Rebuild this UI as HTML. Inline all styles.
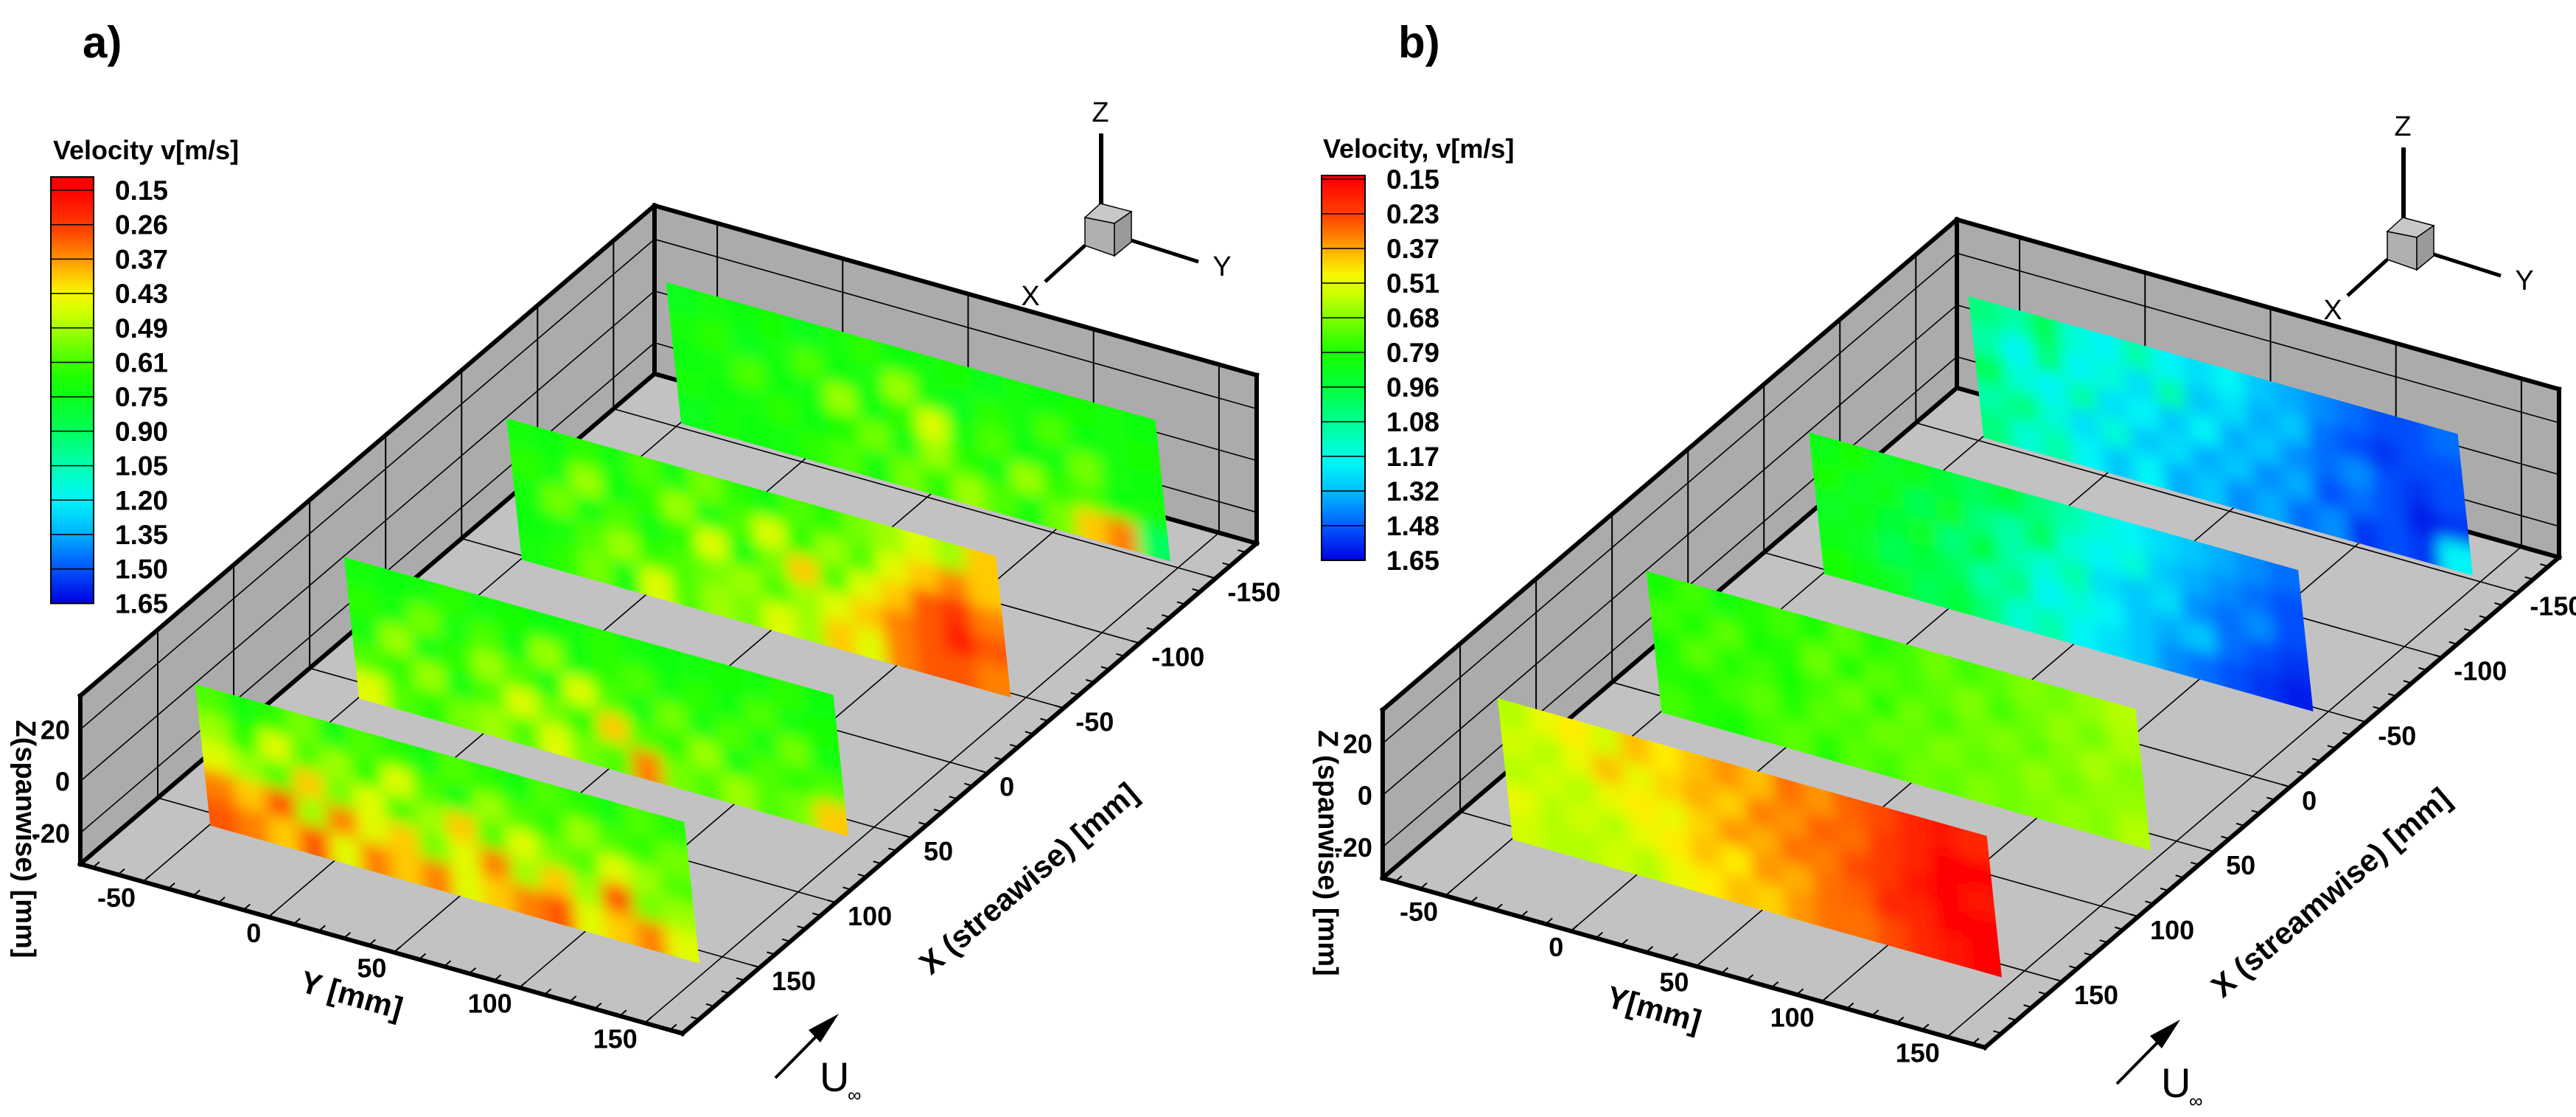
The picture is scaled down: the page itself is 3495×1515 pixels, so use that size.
<!DOCTYPE html>
<html><head><meta charset="utf-8">
<style>
html,body{margin:0;padding:0;background:#fff;}
svg{display:block;}
text{font-family:"Liberation Sans",Arial,sans-serif;}
</style></head>
<body>
<svg id="fig" xmlns="http://www.w3.org/2000/svg" width="3495" height="1515" viewBox="0 0 3495 1515">
<defs id="defs"></defs>
<text x="112" y="78" font-size="60" font-weight="bold">a)</text>
<text x="1897" y="78" font-size="60" font-weight="bold">b)</text>
<g id="panelA"></g>
<g id="panelB"></g>
</svg>
<script>
// ---- data ----
const levelsA = [0.15,0.26,0.37,0.43,0.49,0.61,0.75,0.90,1.05,1.20,1.35,1.50,1.65];
const levelsB = [0.15,0.23,0.37,0.51,0.68,0.79,0.96,1.08,1.17,1.32,1.48,1.65];
const levelLabelsA = ["0.15","0.26","0.37","0.43","0.49","0.61","0.75","0.90","1.05","1.20","1.35","1.50","1.65"];
const levelLabelsB = ["0.15","0.23","0.37","0.51","0.68","0.79","0.96","1.08","1.17","1.32","1.48","1.65"];
const yTicks = [-50,0,50,100,150];
const xTicks = [-150,-100,-50,0,50,100,150];
const zTicks = [-20,0,20];
const planeX = [-145,-40,67,165];
const planeY = [-45,150];
const planeZ = [-27,26];

const planeA1 = [
[0.75,0.7,0.72,0.68,0.75,0.7,0.65,0.72,0.7,0.68,0.75,0.7,0.72,0.68,0.7,0.72],
[0.7,0.65,0.75,0.7,0.6,0.72,0.7,0.5,0.7,0.75,0.65,0.7,0.6,0.72,0.7,0.68],
[0.72,0.7,0.6,0.72,0.7,0.5,0.72,0.65,0.45,0.7,0.6,0.72,0.7,0.55,0.7,0.72],
[0.7,0.72,0.7,0.65,0.72,0.68,0.55,0.7,0.5,0.65,0.7,0.5,0.65,0.6,0.72,0.7],
[0.75,0.7,0.72,0.7,0.65,0.6,0.7,0.55,0.65,0.5,0.6,0.7,0.55,0.4,0.35,0.9]];
const planeA2 = [
[0.7,0.72,0.65,0.7,0.6,0.7,0.55,0.65,0.7,0.6,0.65,0.55,0.5,0.45,0.5,0.4],
[0.65,0.7,0.5,0.72,0.65,0.5,0.7,0.6,0.45,0.65,0.5,0.6,0.45,0.4,0.35,0.4],
[0.7,0.55,0.7,0.6,0.7,0.65,0.45,0.7,0.55,0.4,0.6,0.45,0.4,0.3,0.25,0.35],
[0.72,0.7,0.6,0.5,0.65,0.6,0.55,0.5,0.6,0.5,0.45,0.4,0.35,0.3,0.2,0.3],
[0.7,0.65,0.55,0.7,0.45,0.6,0.5,0.55,0.45,0.5,0.4,0.45,0.35,0.3,0.3,0.35]];
const planeA3 = [
[0.7,0.72,0.7,0.65,0.7,0.68,0.72,0.7,0.65,0.7,0.72,0.7,0.68,0.7,0.65,0.72],
[0.65,0.7,0.55,0.7,0.6,0.72,0.5,0.7,0.65,0.6,0.7,0.65,0.72,0.6,0.7,0.68],
[0.7,0.5,0.7,0.65,0.5,0.6,0.7,0.45,0.6,0.7,0.55,0.7,0.6,0.7,0.55,0.7],
[0.6,0.65,0.5,0.7,0.6,0.45,0.55,0.65,0.4,0.6,0.65,0.5,0.7,0.6,0.65,0.6],
[0.45,0.6,0.65,0.55,0.5,0.6,0.45,0.55,0.6,0.35,0.55,0.6,0.5,0.6,0.55,0.4]];
const planeA4 = [
[0.6,0.7,0.65,0.55,0.7,0.6,0.65,0.7,0.6,0.65,0.7,0.6,0.65,0.7,0.6,0.65],
[0.5,0.65,0.45,0.6,0.5,0.65,0.45,0.6,0.7,0.5,0.6,0.65,0.5,0.6,0.65,0.55],
[0.45,0.5,0.6,0.4,0.55,0.45,0.6,0.5,0.4,0.6,0.45,0.55,0.6,0.45,0.5,0.6],
[0.35,0.4,0.3,0.5,0.35,0.45,0.4,0.55,0.45,0.35,0.5,0.4,0.5,0.3,0.55,0.5],
[0.3,0.35,0.4,0.3,0.45,0.35,0.4,0.35,0.45,0.4,0.35,0.3,0.45,0.4,0.35,0.45]];
const planeB1 = [
[1.05,1.1,1.0,1.15,1.2,1.1,1.2,1.25,1.2,1.3,1.35,1.4,1.45,1.5,1.5,1.45],
[1.1,1.2,1.05,1.2,1.15,1.25,1.1,1.3,1.25,1.35,1.3,1.45,1.5,1.55,1.5,1.5],
[1.0,1.15,1.2,1.1,1.25,1.2,1.3,1.2,1.35,1.3,1.4,1.45,1.4,1.5,1.55,1.5],
[1.1,1.05,1.15,1.25,1.15,1.3,1.25,1.35,1.3,1.4,1.35,1.5,1.45,1.5,1.6,1.55],
[1.05,1.15,1.1,1.2,1.3,1.2,1.35,1.3,1.4,1.35,1.45,1.4,1.55,1.5,1.55,1.2]];
const planeB2 = [
[0.85,0.8,0.9,0.85,0.95,1.0,0.95,1.05,1.1,1.15,1.2,1.25,1.3,1.35,1.4,1.45],
[0.8,0.9,0.85,1.0,0.9,1.05,1.1,1.0,1.15,1.2,1.15,1.3,1.35,1.4,1.45,1.5],
[0.9,0.85,0.95,0.9,1.05,0.95,1.1,1.15,1.1,1.25,1.3,1.25,1.4,1.45,1.4,1.5],
[0.85,0.9,1.0,0.95,1.0,1.1,1.05,1.2,1.15,1.2,1.3,1.35,1.3,1.45,1.5,1.55],
[0.8,0.85,0.9,1.0,0.95,1.05,1.15,1.1,1.2,1.25,1.3,1.4,1.45,1.5,1.55,1.6]];
const planeB3 = [
[0.8,0.75,0.82,0.78,0.75,0.8,0.72,0.78,0.75,0.7,0.75,0.72,0.68,0.7,0.65,0.6],
[0.75,0.8,0.72,0.8,0.78,0.7,0.8,0.72,0.75,0.72,0.68,0.75,0.7,0.65,0.7,0.62],
[0.8,0.72,0.78,0.75,0.8,0.75,0.7,0.78,0.7,0.75,0.7,0.68,0.72,0.68,0.62,0.68],
[0.78,0.8,0.75,0.72,0.78,0.72,0.75,0.7,0.72,0.68,0.72,0.7,0.65,0.7,0.66,0.65],
[0.75,0.78,0.8,0.75,0.72,0.78,0.72,0.75,0.7,0.72,0.68,0.7,0.68,0.65,0.68,0.6]];
const planeB4 = [
[0.6,0.5,0.45,0.55,0.4,0.45,0.4,0.35,0.4,0.3,0.35,0.28,0.25,0.2,0.18,0.2],
[0.55,0.6,0.5,0.4,0.5,0.42,0.38,0.42,0.32,0.35,0.28,0.3,0.22,0.2,0.15,0.15],
[0.6,0.55,0.6,0.5,0.45,0.5,0.42,0.35,0.38,0.3,0.32,0.25,0.22,0.18,0.15,0.18],
[0.5,0.6,0.55,0.6,0.5,0.45,0.4,0.45,0.35,0.38,0.3,0.28,0.2,0.2,0.15,0.15],
[0.55,0.6,0.6,0.55,0.6,0.5,0.45,0.4,0.42,0.35,0.3,0.3,0.25,0.2,0.18,0.15]];

// ---- helpers ----
const NS = "http://www.w3.org/2000/svg";
const defs = document.getElementById('defs');
function mk(tag, attrs, parent){ const e=document.createElementNS(NS,tag); for(const k in attrs) e.setAttribute(k,attrs[k]); parent.appendChild(e); return e; }
const XB=-177, YMIN=-75, ZMIN=-32;
function proj(off,X,Y,Z){
  const a=X-XB, b=Y-YMIN, c=Z-ZMIN;
  return [off[0]+888 + a*-2.061 + b*3.404, off[1]+507 + a*1.759 + b*0.958 - c*3.51];
}
function pts(arr){ return arr.map(p=>p[0].toFixed(1)+','+p[1].toFixed(1)).join(' '); }
const pal = [[0,255,0,0],[0.1,255,70,0],[0.17,255,150,0],[0.24,255,245,0],[0.3,205,255,0],[0.38,110,255,0],[0.46,20,255,0],[0.56,0,255,70],[0.66,0,255,170],[0.74,0,250,245],[0.82,0,190,255],[0.91,0,90,255],[1,0,0,225]];
function palColor(t){
  t=Math.max(0,Math.min(1,t));
  for(let i=1;i<pal.length;i++){ if(t<=pal[i][0]){ const p=pal[i-1],q=pal[i],f=(t-p[0])/(q[0]-p[0]);
    return 'rgb('+[1,2,3].map(j=>Math.round(p[j]+(q[j]-p[j])*f)).join(',')+')'; } }
  return 'rgb(0,0,225)';
}
function valColor(v,levels){
  const n=levels.length; if(v<=levels[0]) return palColor(0); if(v>=levels[n-1]) return palColor(1);
  for(let i=1;i<n;i++){ if(v<=levels[i]){ const f=i-1+(v-levels[i-1])/(levels[i]-levels[i-1]); return palColor(f/(n-1)); } }
}

function colorbar(g, levels, labels, x0, x1, top, first, step, title, tx, id){
  const last = first+step*(levels.length-1);
  const t = mk('text',{x:tx,y:top-24,'font-size':36,'font-weight':'bold'},g);
  
  
  t.textContent=title;
  const gr = mk('linearGradient',{id:id,x1:0,y1:0,x2:0,y2:1},defs);
  for(let i=0;i<=20;i++){ mk('stop',{offset:i/20,'stop-color':palColor(i/20)},gr); }
  const topb = mk('rect',{x:x0,y:top,width:x1-x0,height:first-top,fill:palColor(0)},g);
  
  
  const bar = mk('rect',{x:x0,y:first,width:x1-x0,height:last-first,fill:'url(#'+id+')'},g);
  
  
  mk('rect',{x:x0,y:top,width:x1-x0,height:last-top,fill:'none',stroke:'#000','stroke-width':2},g);
  levels.forEach((v,i)=>{
    const y=first+step*i;
    mk('line',{x1:x0,x2:x1,y1:y,y2:y,stroke:'#000','stroke-width':1.5},g);
    const l=mk('text',{x:x1+29,y:y+13,'font-size':37,'font-weight':'bold'},g);
    
    
    l.textContent=labels[i];
  });
}

function panel(g, off, planes, levels, names, pid){
  const P=(X,Y,Z)=>proj(off,X,Y,Z);
  const XF=201, YM=165, ZM=33;
  const backWall = mk('polygon',{points:pts([P(XB,YMIN,ZMIN),P(XB,YM,ZMIN),P(XB,YM,ZM),P(XB,YMIN,ZM)]),fill:'#ababab'},g);
  
  
  const leftWall = mk('polygon',{points:pts([P(XB,YMIN,ZMIN),P(XF,YMIN,ZMIN),P(XF,YMIN,ZM),P(XB,YMIN,ZM)]),fill:'#ababab'},g);
  
  
  const floor = mk('polygon',{points:pts([P(XB,YMIN,ZMIN),P(XB,YM,ZMIN),P(XF,YM,ZMIN),P(XF,YMIN,ZMIN)]),fill:'#c2c2c2'},g);
  
  
  const grid = mk('g',{stroke:'#000','stroke-width':1.6,fill:'none'},g);
  
  
  const ln=(p,q,w)=>mk('line',{x1:p[0],y1:p[1],x2:q[0],y2:q[1],'stroke-width':w||1.6},grid);
  yTicks.forEach(y=>{ ln(P(XB,y,ZMIN),P(XB,y,ZM),2); ln(P(XB,y,ZMIN),P(XF,y,ZMIN)); });
  xTicks.forEach(x=>{ ln(P(x,YMIN,ZMIN),P(x,YMIN,ZM),2); ln(P(x,YMIN,ZMIN),P(x,YM,ZMIN)); });
  zTicks.forEach(z=>{ ln(P(XB,YMIN,z),P(XB,YM,z)); ln(P(XB,YMIN,z),P(XF,YMIN,z)); });
  // back (hidden-side) edges drawn before planes
  const bedges=mk('g',{stroke:'#000','stroke-width':6,'stroke-linecap':'square',fill:'none'},g);
  
  
  const bl=(p,q)=>mk('line',{x1:p[0],y1:p[1],x2:q[0],y2:q[1]},bedges);
  bl(P(XB,YMIN,ZMIN),P(XB,YMIN,ZM));
  bl(P(XB,YMIN,ZMIN),P(XB,YM,ZMIN)); bl(P(XB,YMIN,ZMIN),P(XF,YMIN,ZMIN));
  // planes
  planes.forEach((data,pi)=>{
    const X=planeX[pi], y0=planeY[0], y1=planeY[1], z0=planeZ[0], z1=planeZ[1];
    const sk=-6;
    const outline=[P(X,y0,z0),P(X,y1,z0),P(X,y1+sk,z1),P(X,y0+sk,z1)];
    const cid=pid+'clip'+pi;
    const cp=mk('clipPath',{id:cid},defs);
    mk('polygon',{points:pts(outline)},cp);
    const pg=mk('g',{'clip-path':'url(#'+cid+')'},g);
    
    
    const inner=mk('g',{filter:'url(#blur)'},pg);
    const rows=data.length, cols=data[0].length;
    const dy=(y1-y0)/cols, dz=(z1-z0)/rows;
    for(let r=-1;r<=rows;r++){ for(let c=-1;c<=cols;c++){
      const v=data[Math.max(0,Math.min(rows-1,r))][Math.max(0,Math.min(cols-1,c))];
      const zt=z1-r*dz, zb=zt-dz;
      const s0=sk*((zt-z0)/(z1-z0)), s1=sk*((zb-z0)/(z1-z0));
      const ya=y0+c*dy, yb=ya+dy;
      const cell=mk('polygon',{points:pts([P(X,ya+s0-0.5,zt+0.3),P(X,yb+s0+0.5,zt+0.3),P(X,yb+s1+0.5,zb-0.3),P(X,ya+s1-0.5,zb-0.3)]),fill:valColor(v,levels)},inner);
      
      
    }}
  });
  // outer box edges
  const edges=mk('g',{stroke:'#000','stroke-width':6,'stroke-linecap':'square',fill:'none'},g);
  
  
  const el=(p,q)=>mk('line',{x1:p[0],y1:p[1],x2:q[0],y2:q[1]},edges);
  el(P(XB,YMIN,ZM),P(XB,YM,ZM)); el(P(XB,YM,ZM),P(XB,YM,ZMIN));
  el(P(XB,YMIN,ZM),P(XF,YMIN,ZM)); el(P(XF,YMIN,ZM),P(XF,YMIN,ZMIN));
  el(P(XF,YMIN,ZMIN),P(XF,YM,ZMIN)); el(P(XB,YM,ZMIN),P(XF,YM,ZMIN));
  for(let x=-170;x<=200;x+=10){ const p=P(x,YM,ZMIN), q=P(x,YM-3,ZMIN); mk('line',{x1:p[0],y1:p[1],x2:q[0],y2:q[1],'stroke-width':2},edges); }
  for(let y=-70;y<=160;y+=10){ const p=P(XF,y,ZMIN), q=P(XF-4,y,ZMIN); mk('line',{x1:p[0],y1:p[1],x2:q[0],y2:q[1],'stroke-width':2},edges); }
  yTicks.forEach(y=>{ const p=P(XF,y,ZMIN);
    const t=mk('text',{x:p[0]-10,y:p[1]+34,'font-size':36,'font-weight':'bold','text-anchor':'end'},g);
    
    
    t.textContent=y; });
  xTicks.forEach(x=>{ const p=P(x,YM,ZMIN);
    const t=mk('text',{x:p[0]+16,y:p[1]+31,'font-size':36,'font-weight':'bold'},g);
    
    
    t.textContent=x; });
  zTicks.forEach(z=>{ const p=P(XF,YMIN,z);
    const t=mk('text',{x:p[0]-14,y:p[1]+13,'font-size':36,'font-weight':'bold','text-anchor':'end'},g);
    
    
    t.textContent=z; });
  const xt0=P(40,YM+30,ZMIN), xt=[xt0[0]+45,xt0[1]+55];
  const xtt=mk('text',{x:xt[0],y:xt[1],'font-size':42,'font-weight':'bold','text-anchor':'middle',transform:'rotate(-40.5 '+xt[0]+' '+xt[1]+')'},g);
  
  
  xtt.textContent=names.x;
  const yt=P(XF+38,55,ZMIN);
  const ytt=mk('text',{x:yt[0],y:yt[1],'font-size':42,'font-weight':'bold','text-anchor':'middle',transform:'rotate(15.7 '+yt[0]+' '+yt[1]+')'},g);
  
  
  ytt.textContent=names.y;
  const zx=off[0]+22, zy=off[1]+1138;
  const ztt=mk('text',{x:zx,y:zy,'font-size':38,'font-weight':'bold','text-anchor':'middle',transform:'rotate(90 '+zx+' '+zy+')'},g);
  
  
  ztt.textContent=names.z;
  const o=off, tr=mk('g',{},g);
  
  
  const q=(x,y)=>(x+o[0])+','+(y+o[1]);
  mk('line',{x1:1494+o[0],y1:181+o[1],x2:1494+o[0],y2:277+o[1],stroke:'#000','stroke-width':6},tr);
  mk('line',{x1:1472+o[0],y1:333+o[1],x2:1418+o[0],y2:382+o[1],stroke:'#000','stroke-width':5},tr);
  mk('line',{x1:1535+o[0],y1:326+o[1],x2:1626+o[0],y2:355+o[1],stroke:'#000','stroke-width':5},tr);
  mk('polygon',{points:[q(1472,295),q(1493,276),q(1535,287),q(1512,303)].join(' '),fill:'#c8c8c8',stroke:'#000','stroke-width':1.5},tr);
  mk('polygon',{points:[q(1472,295),q(1512,303),q(1512,347),q(1472,333)].join(' '),fill:'#b0b0b0',stroke:'#000','stroke-width':1.5},tr);
  mk('polygon',{points:[q(1512,303),q(1535,287),q(1535,328),q(1512,347)].join(' '),fill:'#9a9a9a',stroke:'#000','stroke-width':1.5},tr);
  [['Z',1493,165],['X',1398,414],['Y',1658,374]].forEach(a=>{
    const t=mk('text',{x:a[1]+o[0],y:a[2]+o[1],'font-size':38,'text-anchor':'middle'},tr);
    
    
    t.textContent=a[0]; });
  const u=names.u, ug=mk('g',{},g);
  
  
  mk('line',{x1:1052+u[0],y1:1462+u[1],x2:1115+u[0],y2:1398+u[1],stroke:'#000','stroke-width':4},ug);
  mk('polygon',{points:(1138+u[0])+','+(1375+u[1])+' '+(1097+u[0])+','+(1397+u[1])+' '+(1113+u[0])+','+(1414+u[1]),fill:'#000'},ug);
  const ut=mk('text',{x:1112+u[0],y:1480+u[1],'font-size':56},ug);
  
  
  ut.textContent='U';
  const us=mk('text',{x:1150+u[0],y:1494+u[1],'font-size':26},ug);
  
  
  us.textContent='∞';
}

const f=mk('filter',{id:'blur',x:'-10%',y:'-10%',width:'120%',height:'120%'},defs);
mk('feGaussianBlur',{stdDeviation:10},f);

const gA=document.getElementById('panelA'), gB=document.getElementById('panelB');
colorbar(gA, levelsA, levelLabelsA, 69, 127, 240, 258, 46.7, 'Velocity v[m/s]', 72, 'cbA');
colorbar(gB, levelsB, levelLabelsB, 1793, 1852, 238, 243, 47, 'Velocity,  v[m/s]', 1795, 'cbB');
panel(gA,[0,0],[planeA1,planeA2,planeA3,planeA4],levelsA,{x:'X (streawise) [mm]',y:'Y [mm]',z:'Z(spanwise) [mm]',u:[0,0]},'a');
panel(gB,[1767,19],[planeB1,planeB2,planeB3,planeB4],levelsB,{x:'X (streamwise) [mm]',y:'Y[mm]',z:'Z (spanwise) [mm]',u:[1820,8]},'b');
</script>
</body></html>
